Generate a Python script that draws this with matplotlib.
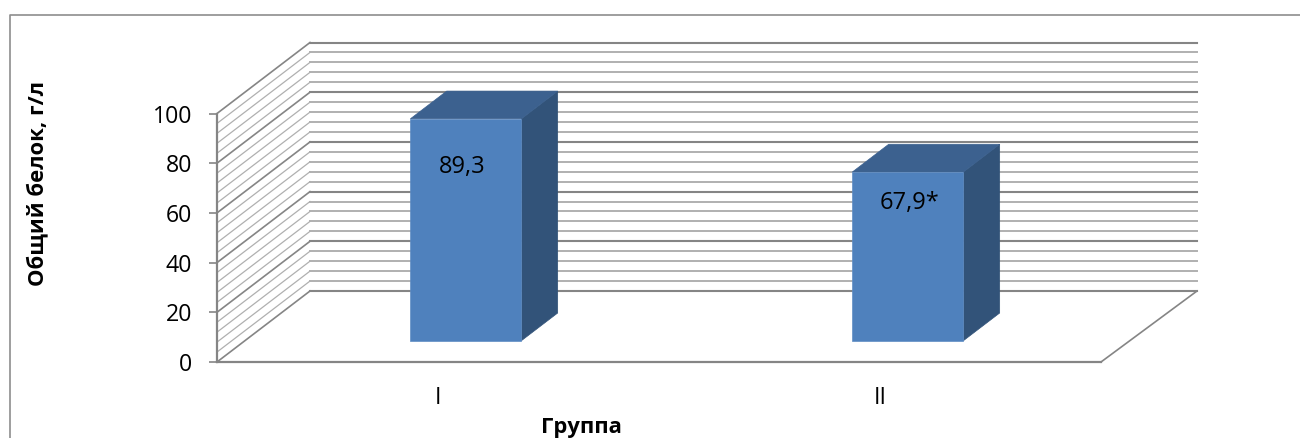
import matplotlib.pyplot as plt
from matplotlib.lines import Line2D
from matplotlib.patches import Polygon

groups = ["I", "II"]
values = [89.3, 67.9]
value_labels = ["89,3", "67,9*"]
y_ticks = [0, 20, 40, 60, 80, 100]

plt.rcParams["font.family"] = ["Open Sans", "DejaVu Sans"]

W, H = 1300, 438
fig = plt.figure(figsize=(W / 100, H / 100), dpi=100)

# plot box in pixels, front plane starts at the left, back wall ends on the right
left, right, top, bottom = 217, 1197, 42.5, 362
ax = fig.add_axes([left / W, 1 - bottom / H, (right - left) / W, (bottom - top) / H])

# how far one full step into the chart shifts things, in data units
depth_x = 93 / 442
depth_y = 71 / 2.485
back_extra = 3 / 442  # back wall runs a little past the floor corner
ax.set_xlim(0, len(groups) + depth_x + back_extra)
ax.set_ylim(0, 100 + depth_y)


def proj(x, y, d):
    return x + d * depth_x, y + d * depth_y


# walls
end_x = len(groups) + back_extra
for v in range(0, 101, 4):
    major = v % 20 == 0
    color = "#858585" if major else "#b0b0b0"
    lw = 1.5 if major else 1.4
    wall_lw = 1.2 if major else 0.9
    ax.plot(*zip(proj(0, v, 0), proj(0, v, 1)), color=color, lw=wall_lw, zorder=1, clip_on=False)
    ax.plot(*zip(proj(0, v, 1), proj(end_x, v, 1)), color=color, lw=lw, zorder=1, clip_on=False)

# floor, right edge
ax.plot(*zip(proj(len(groups), 0, 0), proj(end_x, 0, 1)), color="#858585", lw=1.2, zorder=1, clip_on=False)

# bars
bar_w = 111 / 442
d0, d1 = 0.3, 0.69
for i, v in enumerate(values):
    x0 = i + 0.5 - bar_w / 2
    x1 = i + 0.5 + bar_w / 2
    front = [proj(x0, 0, d0), proj(x1, 0, d0), proj(x1, v, d0), proj(x0, v, d0)]
    roof = [proj(x0, v, d0), proj(x1, v, d0), proj(x1, v, d1), proj(x0, v, d1)]
    side = [proj(x1, 0, d0), proj(x1, 0, d1), proj(x1, v, d1), proj(x1, v, d0)]
    ax.add_patch(Polygon(side, facecolor="#325379", edgecolor="#325379", lw=0.5, zorder=3))
    ax.add_patch(Polygon(roof, facecolor="#3c618f", edgecolor="#3c618f", lw=0.5, zorder=3))
    ax.add_patch(Polygon(front, facecolor="#4f81bd", edgecolor="#5f8dc4", lw=0.5, zorder=4))

# labels were moved by hand in the original, so offsets differ
label_drop = [19.2, 12.4]
label_shift = [-4, 2]
for i, v in enumerate(values):
    lx, ly = proj(i + 0.5, v - label_drop[i], d0)
    ax.annotate(value_labels[i], (lx, ly), xytext=(label_shift[i], 0), textcoords="offset pixels",
                ha="center", va="center", fontsize=17, color="black", zorder=5)

ax.set_yticks(y_ticks)
ax.set_xticks([i + 0.5 for i in range(len(groups))])
ax.set_xticklabels(groups)
ax.tick_params(axis="y", length=6, width=1.2, color="#858585", labelsize=16.7, pad=12)
ax.tick_params(axis="x", length=0, labelsize=16.7, pad=17)

for s in ["top", "right"]:
    ax.spines[s].set_visible(False)
ax.spines["left"].set_bounds(0, 100)
ax.spines["bottom"].set_bounds(0, len(groups))
for s in ["left", "bottom"]:
    ax.spines[s].set_color("#858585")
    ax.spines[s].set_linewidth(1.6)
ax.patch.set_visible(False)

fig.text(37.5 / W, 1 - 184 / H, "Общий белок, г/л", rotation=90, ha="center", va="center",
         fontsize=15.8, fontweight="bold")
fig.text(581 / W, 1 - 428 / H, "Группа", ha="center", va="center", fontsize=15.8, fontweight="bold")

# outer frame is cut off by the crop on the right and bottom
fig.add_artist(Line2D([10 / W, 10 / W, 1], [0, 1 - 14.5 / H, 1 - 14.5 / H], color="#8e8e8e", lw=1.2))

fig.savefig("out.png", dpi=100)
